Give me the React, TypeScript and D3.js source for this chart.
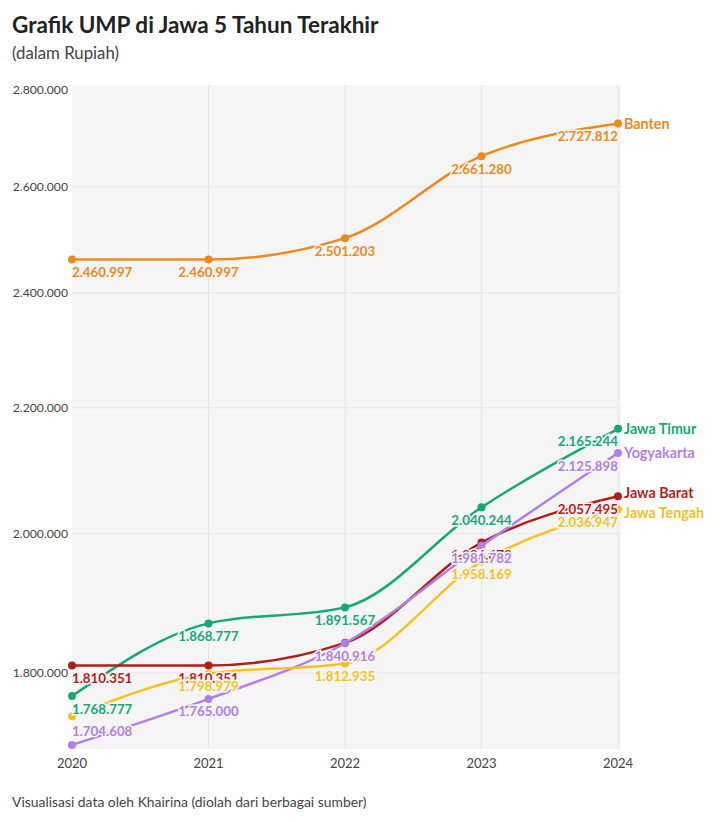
import React from "react";
import * as d3 from "d3";

const years = [2020, 2021, 2022, 2023, 2024];
const seriesNames = ["Banten", "Jawa Timur", "Jawa Barat", "Yogyakarta", "Jawa Tengah"];
const banten = [2460997, 2460997, 2501203, 2661280, 2727812];
const jawaTimur = [1768777, 1868777, 1891567, 2040244, 2165244];
const jawaBarat = [1810351, 1810351, 1841487, 1986670, 2057495];
const yogyakarta = [1704608, 1765000, 1840916, 1981782, 2125898];
const jawaTengah = [1742015, 1798979, 1812935, 1958169, 2036947];
const seriesValues = [banten, jawaTimur, jawaBarat, yogyakarta, jawaTengah];
const seriesColors = ["#ee8a1d", "#17a878", "#b01e1e", "#b27fe6", "#f4c21f"];
const hiddenLabels = [["Jawa Tengah", 2020], ["Jawa Barat", 2022]];
const yTicks = [1800000, 2000000, 2200000, 2400000, 2600000, 2800000];

const title = "Grafik UMP di Jawa 5 Tahun Terakhir";
const subtitle = "(dalam Rupiah)";
const footer = "Visualisasi data oleh Khairina (diolah dari berbagai sumber)";

const W = 720;
const H = 822;
const FONT = "Lato, 'Noto Sans', sans-serif";
const PANEL_BG = "#f5f5f5";

const locale = d3.formatLocale({ decimal: ",", thousands: ".", grouping: [3], currency: ["Rp", ""] });
const fmt = locale.format(",d");

export default function App() {
  const x = d3.scaleLinear().domain([2020, 2024]).range([72, 618]);
  const y = d3.scaleLog().domain([1700000, 2800000]).range([748.5, 89]);
  const panel = { x0: 72, x1: 621, y0: 85, y1: 749 };

  const line = d3
    .line<number>()
    .x((_, i) => x(years[i]))
    .y((d) => y(d))
    .curve(d3.curveMonotoneX);

  const ends = seriesNames.map((name, i) => ({
    name,
    color: seriesColors[i],
    target: y(seriesValues[i][years.length - 1]),
    pos: y(seriesValues[i][years.length - 1]),
  }));
  const sorted = [...ends].sort((a, b) => a.target - b.target);
  const minGap = 20;
  for (let iter = 0; iter < 50; iter++) {
    let moved = false;
    for (let k = 1; k < sorted.length; k++) {
      const a = sorted[k - 1];
      const b = sorted[k];
      if (b.pos - a.pos < minGap) {
        const mid = (a.pos + b.pos) / 2;
        a.pos = mid - minGap / 2;
        b.pos = mid + minGap / 2;
        moved = true;
      }
    }
    if (!moved) break;
  }

  const isHidden = (name: string, yr: number) =>
    hiddenLabels.some(([n, yy]) => n === name && yy === yr);

  return (
    <svg width={W} height={H} style={{ position: "absolute", left: 0, top: 0, fontFamily: FONT }}>
      <rect x={0} y={0} width={W} height={H} fill="#ffffff" />
      <text x={12} y={33} fontSize={22.5} fontWeight={700} fill="#222">
        {title}
      </text>
      <text x={12} y={59} fontSize={16.8} fill="#444">
        {subtitle}
      </text>

      <rect x={panel.x0} y={panel.y0} width={panel.x1 - panel.x0} height={panel.y1 - panel.y0} fill={PANEL_BG} />
      {yTicks.map((t) => (
        <g key={t}>
          {t < 2800000 && (
            <line x1={panel.x0} x2={panel.x1} y1={y(t)} y2={y(t)} stroke="#e6e6e6" strokeWidth={1} />
          )}
          <text x={68} y={y(t) + 4.5} fontSize={12.2} textAnchor="end" fill="#444">
            {fmt(t)}
          </text>
        </g>
      ))}
      {years.map((yr) => (
        <g key={yr}>
          {yr > 2020 && (
            <line x1={x(yr)} x2={x(yr)} y1={panel.y0} y2={panel.y1} stroke="#e6e6e6" strokeWidth={1} />
          )}
          <text x={x(yr)} y={768} fontSize={13} textAnchor="middle" fill="#444">
            {yr}
          </text>
        </g>
      ))}

      {seriesNames.map((name, i) => (
        <g key={name}>
          <path d={line(seriesValues[i]) || ""} fill="none" stroke={seriesColors[i]} strokeWidth={2.5} />
          {seriesValues[i].map((v, j) => (
            <circle key={j} cx={x(years[j])} cy={y(v)} r={4} fill={seriesColors[i]} />
          ))}
        </g>
      ))}

      {seriesNames.map((name, i) =>
        seriesValues[i].map((v, j) => {
          if (isHidden(name, years[j])) return null;
          const anchor = j === 0 ? "start" : j === years.length - 1 ? "end" : "middle";
          const below = y(v) + 17.5;
          const ly = below + 4 > panel.y1 ? y(v) - 9 : below;
          return (
            <text
              key={name + j}
              x={x(years[j])}
              y={ly}
              fontSize={13.3}
              fontWeight={700}
              textAnchor={anchor}
              fill={seriesColors[i]}
              stroke={PANEL_BG}
              strokeWidth={3}
              paintOrder="stroke"
            >
              {fmt(v)}
            </text>
          );
        })
      )}

      {ends.map((e) => (
        <text
          key={e.name}
          x={624}
          y={e.pos + 5}
          fontSize={14.3}
          fontWeight={700}
          fill={e.color}
          stroke="#ffffff"
          strokeWidth={3}
          paintOrder="stroke"
        >
          {e.name}
        </text>
      ))}

      <text x={12} y={807} fontSize={13.9} fill="#444">
        {footer}
      </text>
    </svg>
  );
}
